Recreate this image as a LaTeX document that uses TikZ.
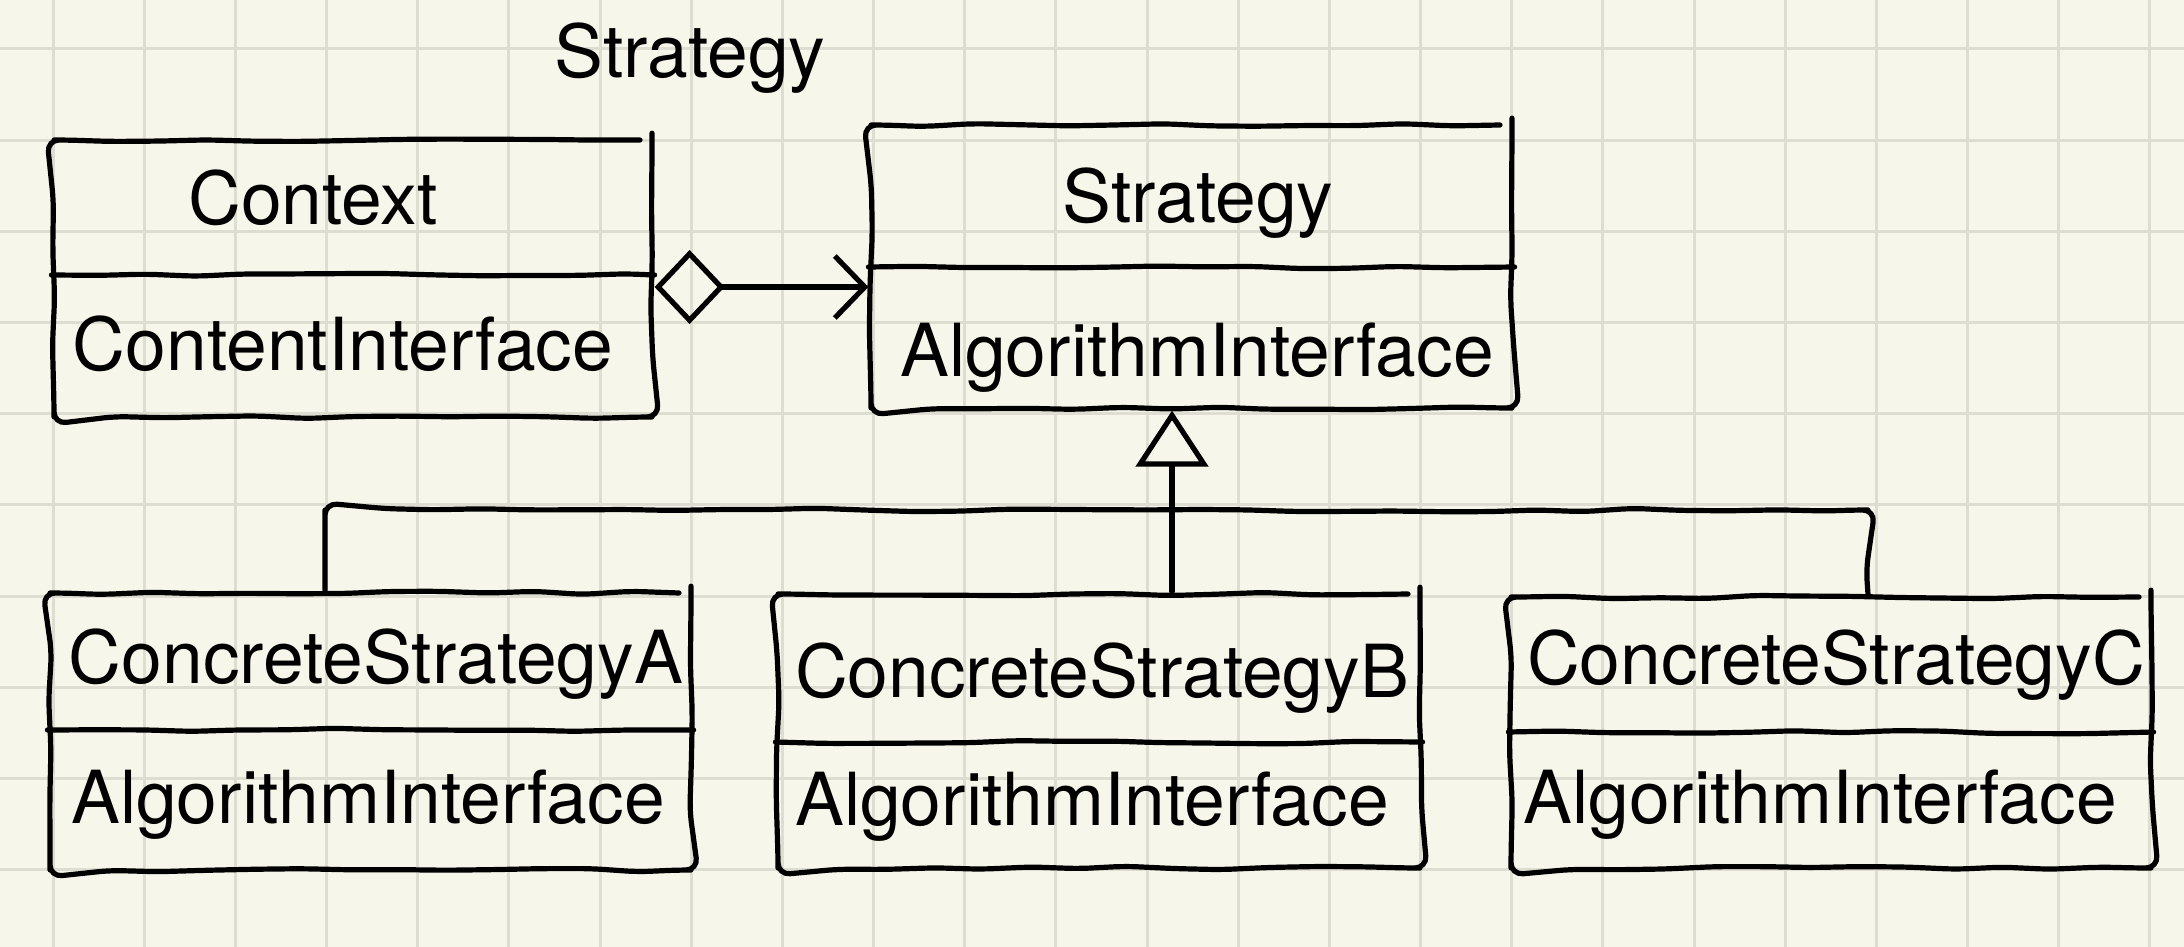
\documentclass[tikz,border=0pt]{standalone}
\usepackage{fontspec}
\setmainfont{TeX Gyre Heros}
\usetikzlibrary{arrows.meta,decorations.pathmorphing}
\definecolor{paper}{RGB}{246,246,234}
\definecolor{rule}{RGB}{221,221,209}
\begin{document}
\pgfmathsetseed{11}
\begin{tikzpicture}[x=0.5pt,y=-0.5pt,
  ink/.style={line width=2.6pt, line cap=round, line join=round, black},
  sketch/.style={decorate, decoration={random steps, segment length=24pt, amplitude=0.9pt}, rounded corners=6pt},
  classbox/.style={draw, ink, sketch, inner sep=0pt},
  label/.style={font=\fontsize{36.6}{44}\selectfont, anchor=base, inner sep=0pt},
]
% paper with square ruling
\useasboundingbox (0,0) rectangle (2184,947);
\fill[paper] (0,0) rectangle (2184,947);
\foreach \k in {0,...,23} \draw[rule, line width=1.5pt] ({53+91.17*\k},0) -- ({53+91.17*\k},947);
\foreach \k in {0,...,9} \draw[rule, line width=1.5pt] (0,{49+91.17*\k}) -- (2184,{49+91.17*\k});

\node[label] (title) at (690,78) {Strategy};

% class boxes
\node[classbox, minimum width=299pt, minimum height=138.5pt] (ctx) at (353,278.5) {};
\node[classbox, minimum width=320.5pt, minimum height=141.5pt] (strat) at (1191.5,266.5) {};
\node[classbox, minimum width=320.5pt, minimum height=138.5pt] (csA) at (370.5,731.5) {};
\node[classbox, minimum width=321pt, minimum height=137pt] (csB) at (1099,731) {};
\node[classbox, minimum width=320pt, minimum height=135.5pt] (csC) at (1831,732.5) {};

% compartment dividers
\draw[ink, sketch] (ctx.west |- 0,275) -- (ctx.east |- 0,275);
\draw[ink, sketch] (strat.west |- 0,267) -- (strat.east |- 0,267);
\draw[ink, sketch] (csA.west |- 0,730) -- (csA.east |- 0,730);
\draw[ink, sketch] (csB.west |- 0,742) -- (csB.east |- 0,742);
\draw[ink, sketch] (csC.west |- 0,732) -- (csC.east |- 0,732);

% class names and operations
\node[label] (ctxName) at (313,224) {Context};
\node[label] (ctxOp) at (343,370) {ContentInterface};
\node[label] (stratName) at (1198,222) {Strategy};
\node[label] (stratOp) at (1197,376) {AlgorithmInterface};
\node[label] (csAName) at (376,683) {ConcreteStrategyA};
\node[label] (csAOp) at (368,823) {AlgorithmInterface};
\node[label] (csBName) at (1102,697) {ConcreteStrategyB};
\node[label] (csBOp) at (1092,825) {AlgorithmInterface};
\node[label] (csCName) at (1836,684) {ConcreteStrategyC};
\node[label] (csCOp) at (1820,823) {AlgorithmInterface};

% aggregation: Context holds a Strategy
\coordinate (aggY) at (0,287);
\draw[ink, {Diamond[open,length=35pt,width=37pt]}-{Straight Barb[length=15pt,width=31pt]}]
  (ctx.east |- aggY) -- (strat.west |- aggY);

% generalization: concrete strategies derive from Strategy
\coordinate (hub) at (1172,510);
\coordinate (barA) at (325,510);
\coordinate (barC) at (1868,510);
\draw[ink, -{Triangle[open,length=28pt,width=36pt]}] (csB.north -| hub) -- (hub |- strat.south);
\draw[ink, sketch] (csA.north -| barA) |- (barC) -- (csC.north -| barC);
\end{tikzpicture}
\end{document}
